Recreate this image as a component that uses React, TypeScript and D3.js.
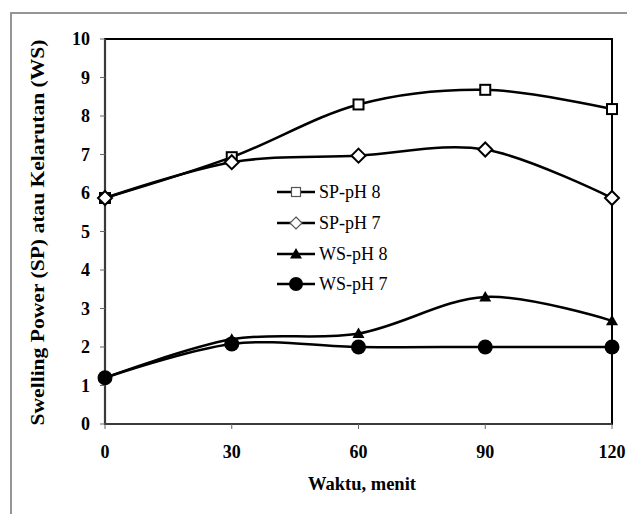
import React from "react";
import * as d3 from "d3";

const times = [0, 30, 60, 90, 120];
const spPH8 = [5.87, 6.93, 8.3, 8.68, 8.18];
const spPH7 = [5.87, 6.8, 6.97, 7.13, 5.87];
const wsPH8 = [1.2, 2.2, 2.35, 3.3, 2.68];
const wsPH7 = [1.2, 2.08, 2.0, 2.0, 2.0];
const yTicks = [0, 1, 2, 3, 4, 5, 6, 7, 8, 9, 10];
const xTicks = [0, 30, 60, 90, 120];
const seriesNames = ["SP-pH 8", "SP-pH 7", "WS-pH 8", "WS-pH 7"];
const seriesMarkers = ["square", "diamond", "triangle", "circle"];

const W = 627;
const H = 514;
const left = 105, right = 612, top = 39, bottom = 424;
const FONT = '"Liberation Serif", "Times New Roman", Times, "DejaVu Serif", serif';

function Marker({ type, x, y, legend }: { type: string; x: number; y: number; legend?: boolean }) {
  const sw = legend ? 1.2 : 2;
  const col = legend ? "#555" : "#000";
  if (type === "square") {
    const s = legend ? 9 : 10;
    return <rect x={x - s / 2} y={y - s / 2} width={s} height={s} fill="#fff" stroke={col} strokeWidth={sw} />;
  }
  if (type === "diamond") {
    const s = legend ? 6 : 7;
    return (
      <path d={`M${x},${y - s}L${x + s},${y}L${x},${y + s}L${x - s},${y}Z`} fill="#fff" stroke={col} strokeWidth={sw} />
    );
  }
  if (type === "triangle") {
    const s = 6;
    return <path d={`M${x},${y - s}L${x + s},${y + s * 0.75}L${x - s},${y + s * 0.75}Z`} fill="#000" />;
  }
  return <circle cx={x} cy={y} r={legend ? 7 : 7.5} fill="#000" />;
}

export default function App() {
  const x = d3.scaleLinear().domain([0, 120]).range([left, right]);
  const y = d3.scaleLinear().domain([0, 10]).range([bottom, top]);
  const series = [spPH8, spPH7, wsPH8, wsPH7];
  const line = d3
    .line<number>()
    .x((_, i) => x(times[i]))
    .y((d) => y(d))
    .curve(d3.curveCardinal.tension(0));

  const legendX1 = 277, legendX2 = 315, legendTextX = 319;
  const legendYs = [192, 223, 254, 284];

  return (
    <svg
      width={W}
      height={H}
      style={{ position: "absolute", left: 0, top: 0, background: "#fff", fontFamily: FONT }}
    >
      <rect x={0} y={0} width={W} height={H} fill="#fff" />
      <rect x={11} y={13} width={W} height={H} fill="none" stroke="#8a8a8a" strokeWidth={1.8} />

      <rect x={left} y={top} width={right - left} height={bottom - top} fill="none" stroke="#000" strokeWidth={2} />
      <line x1={left} y1={top} x2={left} y2={bottom} stroke="#3a3a3a" strokeWidth={2.2} />
      <line x1={left} y1={bottom} x2={right} y2={bottom} stroke="#3a3a3a" strokeWidth={2.2} />

      {yTicks.map((t) => (
        <g key={"y" + t}>
          <line x1={left - 5} x2={left} y1={y(t)} y2={y(t)} stroke="#666" strokeWidth={1} />
          <text x={90} y={y(t)} dy="0.35em" textAnchor="end" fontSize={18} fontWeight="bold">
            {t}
          </text>
        </g>
      ))}
      {xTicks.map((t) => (
        <g key={"x" + t}>
          <line x1={x(t)} x2={x(t)} y1={bottom} y2={bottom + 5} stroke="#666" strokeWidth={1} />
          <text x={x(t)} y={458} textAnchor="middle" fontSize={18} fontWeight="bold">
            {t}
          </text>
        </g>
      ))}

      <text x={362} y={490} textAnchor="middle" fontSize={18.5} fontWeight="bold">
        Waktu, menit
      </text>
      <text
        transform={`translate(44, ${(top + bottom) / 2 + 1}) rotate(-90)`}
        textAnchor="middle"
        fontSize={19}
        fontWeight="bold"
        textLength={386}
        lengthAdjust="spacingAndGlyphs"
      >
        Swelling Power (SP) atau Kelarutan (WS)
      </text>

      {series.map((s, si) => (
        <g key={"s" + si}>
          <path d={line(s) || ""} fill="none" stroke="#000" strokeWidth={2.5} />
          {s.map((v, i) => (
            <Marker key={i} type={seriesMarkers[si]} x={x(times[i])} y={y(v)} />
          ))}
        </g>
      ))}

      {seriesNames.map((n, i) => (
        <g key={"l" + i}>
          <line x1={legendX1} x2={legendX2} y1={legendYs[i]} y2={legendYs[i]} stroke="#000" strokeWidth={2.5} />
          <Marker type={seriesMarkers[i]} x={(legendX1 + legendX2) / 2} y={legendYs[i]} legend />
          <text x={legendTextX} y={legendYs[i]} dy="0.35em" fontSize={18}>
            {n}
          </text>
        </g>
      ))}
    </svg>
  );
}
